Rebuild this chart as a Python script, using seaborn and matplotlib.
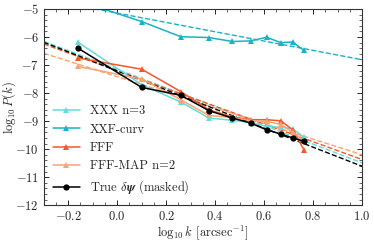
import matplotlib
matplotlib.use("Agg")
import matplotlib.pyplot as plt
import seaborn as sns
from matplotlib.ticker import MultipleLocator

# --- Data ---
log_k = [-0.16, 0.10, 0.26, 0.375, 0.47, 0.545, 0.61, 0.668, 0.717, 0.763]

xxx_n3 = [-6.19, -7.70, -8.32, -8.89, -8.97, -9.05, -9.19, -9.22, -9.27, -9.58]
xxf_curv = [-4.70, -5.45, -5.99, -6.02, -6.16, -6.14, -6.01, -6.20, -6.18, -6.48]
fff = [-6.75, -7.15, -7.95, -8.60, -8.85, -8.95, -8.95, -8.99, -9.31, -10.03]
fff_map = [-7.05, -7.50, -8.24, -8.80, -8.87, -8.98, -9.01, -9.12, -9.40, -9.70]
true_dpsi = [-6.40, -7.80, -8.08, -8.63, -8.89, -9.07, -9.31, -9.46, -9.60, -9.72]

# straight-line fits, values at the two ends of the x-range
fit_x = [-0.3, 1.0]
fit_xxx = [-6.15, -10.49]
fit_xxf = [-4.65, -6.81]
fit_fff = [-6.25, -10.37]
fit_fff_map = [-6.58, -10.20]
fit_true = [-6.19, -10.61]

labels = ["XXX n=3", "XXF-curv", "FFF", "FFF-MAP n=2",
          r"True $\delta\boldsymbol{\psi}$ (masked)"]
colors = ["#62dcdc", "#1ab2c4", "#f4582a", "#f9a272", "black"]
markers = ["^", "^", "^", "^", "o"]

sns.set_style("ticks")
plt.rcParams.update({
    "font.family": "serif",
    "font.serif": ["cmr10", "DejaVu Serif"],
    "mathtext.fontset": "cm",
    "axes.formatter.use_mathtext": True,
    "font.size": 9,
    "axes.labelsize": 9,
    "xtick.labelsize": 9,
    "ytick.labelsize": 9,
    "xtick.direction": "in",
    "ytick.direction": "in",
    "xtick.top": True,
    "ytick.right": True,
    "xtick.minor.visible": True,
    "ytick.minor.visible": True,
    "axes.edgecolor": "#333333",
    "axes.linewidth": 0.8,
})

fig = plt.figure(figsize=(3.74, 2.42), dpi=100)
ax = fig.add_axes([0.117, 0.152, 0.851, 0.811])

series = [xxx_n3, xxf_curv, fff, fff_map, true_dpsi]
fits = [fit_xxx, fit_xxf, fit_fff, fit_fff_map, fit_true]

for fv, c in zip(fits, colors):
    sns.lineplot(x=fit_x, y=fv, ax=ax, color=c, linestyle="--", linewidth=1.0,
                 legend=False)
for yv, lab, c, m in zip(series, labels, colors, markers):
    sns.lineplot(x=log_k, y=yv, ax=ax, color=c, marker=m, markersize=4.5,
                 markeredgewidth=0, linewidth=1.1, label=lab, sort=False)

ax.set_xlim(-0.3, 1.0)
ax.set_ylim(-12, -5)
ax.xaxis.set_major_locator(MultipleLocator(0.2))
ax.xaxis.set_minor_locator(MultipleLocator(0.05))
ax.yaxis.set_major_locator(MultipleLocator(1))
ax.yaxis.set_minor_locator(MultipleLocator(0.2))
ax.tick_params(which="major", length=3.5, width=0.7)
ax.tick_params(which="minor", length=2, width=0.5)

ax.set_xlabel(r"$\log_{10}k$ [arcsec$^{-1}$]", labelpad=0)
ax.set_ylabel(r"$\log_{10}P(k)$")
ax.yaxis.set_label_coords(-0.082, 0.5)

ax.legend(loc="lower left", frameon=False, fontsize=9, handlelength=2.2,
          labelspacing=0.5, borderaxespad=0.3)

fig.savefig("out.png", dpi=100)
